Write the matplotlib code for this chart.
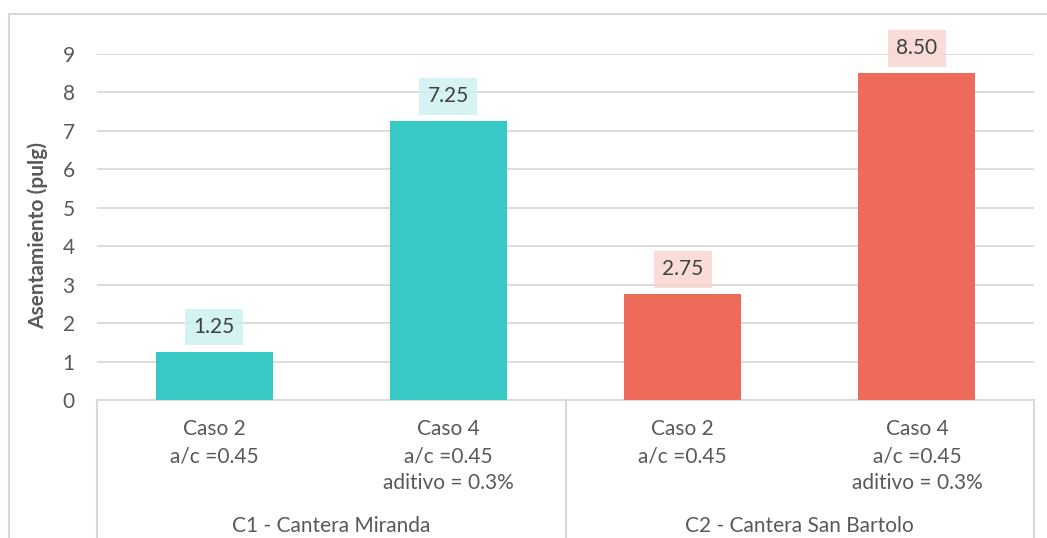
import matplotlib.pyplot as plt
from matplotlib import patches, lines
import numpy as np

plt.rcParams['font.family'] = ['Lato', 'DejaVu Sans']

# data
casos = ["Caso 2\na/c =0.45", "Caso 4\na/c =0.45\naditivo = 0.3%",
         "Caso 2\na/c =0.45", "Caso 4\na/c =0.45\naditivo = 0.3%"]
grupos = ["C1 - Cantera Miranda", "C2 - Cantera San Bartolo"]
asentamiento = [1.25, 7.25, 2.75, 8.50]
colores = ["#38C9C6", "#38C9C6", "#EE6A5B", "#EE6A5B"]
caja = ["#CDF1F0", "#CDF1F0", "#F9D5D0", "#F9D5D0"]

W, H = 1047, 538
fig = plt.figure(figsize=(W/100, H/100), dpi=100)
ax = fig.add_axes([97/W, (H-400)/H, (1034-97)/W, (400-54)/H])

txt = "#595959"
grid = "#D9D9D9"
fs = 15

# outer chart border
fig.patches.append(patches.Rectangle((9/W, -0.1), 1.2, (H-14)/H + 0.1, transform=fig.transFigure,
                                     fill=False, edgecolor=grid, linewidth=1.5))

x = np.arange(len(asentamiento))
ax.bar(x, asentamiento, width=0.5, color=colores, zorder=3)
ax.set_xlim(-0.5, 3.5)
ax.set_ylim(0, 9)
ax.set_yticks(range(0, 10))
ax.yaxis.grid(True, color=grid, linewidth=1.3, zorder=0)
for s in ax.spines.values():
    s.set_visible(False)
ax.tick_params(axis='y', length=0, pad=16, labelsize=fs, labelcolor=txt)
ax.set_xticks(x)
ax.set_xticklabels(casos, fontsize=fs, color=txt, linespacing=1.43, va='top')
ax.tick_params(axis='x', length=0, pad=14)
ax.set_ylabel("Asentamiento (pulg)", fontsize=fs, fontweight='bold', color=txt)
ax.yaxis.set_label_coords(-0.052, 0.474)

for xi, v, c in zip(x, asentamiento, caja):
    ax.annotate(f"{v:.2f}", xy=(xi, v), xytext=(0, 18), textcoords='offset points',
                ha='center', va='center', fontsize=fs, color="#404040", zorder=5,
                bbox=dict(boxstyle='square,pad=0.4', facecolor=c, edgecolor='none', alpha=0.85),
                annotation_clip=False)

# multi-level category axis lines
tr = ax.get_xaxis_transform()
ax.add_line(lines.Line2D([-0.5, 3.5], [0, 0], transform=tr, color=grid, linewidth=1.5, clip_on=False))
for xs in [-0.5, 1.5, 3.5]:
    ax.add_line(lines.Line2D([xs, xs], [0, -0.5], transform=tr, color=grid, linewidth=1.5, clip_on=False))

for gi, g in enumerate(grupos):
    ax.text(2*gi + 0.5, -126/346, g, transform=tr, ha='center', va='center', fontsize=fs, color=txt)

fig.savefig("out.png", dpi=100)
